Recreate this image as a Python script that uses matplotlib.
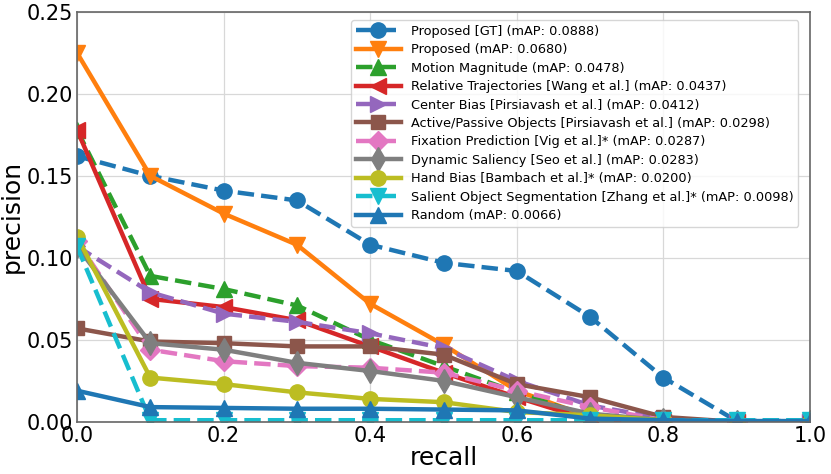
import numpy as np
import matplotlib
matplotlib.use('Agg')
import matplotlib.pyplot as plt

# recall-akse (fælles for alle kurver)
recall = [0.0, 0.1, 0.2, 0.3, 0.4, 0.5, 0.6, 0.7, 0.8, 0.9, 1.0]

# præcision pr. metode
prec_gt = [0.162, 0.150, 0.141, 0.135, 0.108, 0.097, 0.092, 0.064, 0.027, 0.0005, 0.0005]
prec_proposed = [0.225, 0.150, 0.127, 0.108, 0.072, 0.047, 0.019, 0.003, 0.001, 0.0, 0.0]
prec_motion = [0.178, 0.089, 0.081, 0.071, 0.050, 0.034, 0.018, 0.003, 0.001, 0.0, 0.0]
prec_traj = [0.178, 0.075, 0.070, 0.062, 0.046, 0.030, 0.015, 0.001, 0.0, 0.0, 0.0]
prec_center = [0.107, 0.079, 0.066, 0.061, 0.054, 0.045, 0.025, 0.010, 0.002, 0.0, 0.0]
prec_active = [0.057, 0.049, 0.048, 0.046, 0.046, 0.041, 0.023, 0.015, 0.003, 0.0, 0.0]
prec_fixation = [0.110, 0.044, 0.037, 0.034, 0.033, 0.030, 0.019, 0.009, 0.001, 0.0, 0.0]
prec_dynamic = [0.107, 0.048, 0.044, 0.036, 0.031, 0.025, 0.015, 0.005, 0.001, 0.0, 0.0]
prec_hand = [0.113, 0.027, 0.023, 0.018, 0.014, 0.012, 0.006, 0.004, 0.001, 0.0, 0.0]
prec_salient = [0.107, 0.001, 0.001, 0.001, 0.001, 0.001, 0.001, 0.001, 0.001, 0.001, 0.001]
prec_random = [0.019, 0.009, 0.0085, 0.008, 0.008, 0.0075, 0.007, 0.002, 0.001, 0.0005, 0.0005]

labels = [
    'Proposed [GT] (mAP: 0.0888)',
    'Proposed (mAP: 0.0680)',
    'Motion Magnitude (mAP: 0.0478)',
    'Relative Trajectories [Wang et al.] (mAP: 0.0437)',
    'Center Bias [Pirsiavash et al.] (mAP: 0.0412)',
    'Active/Passive Objects [Pirsiavash et al.] (mAP: 0.0298)',
    'Fixation Prediction [Vig et al.]* (mAP: 0.0287)',
    'Dynamic Saliency [Seo et al.] (mAP: 0.0283)',
    'Hand Bias [Bambach et al.]* (mAP: 0.0200)',
    'Salient Object Segmentation [Zhang et al.]* (mAP: 0.0098)',
    'Random (mAP: 0.0066)',
]

series = [prec_gt, prec_proposed, prec_motion, prec_traj, prec_center, prec_active,
          prec_fixation, prec_dynamic, prec_hand, prec_salient, prec_random]
markers = ['o', 'v', '^', '<', '>', 's', 'D', 'd', 'o', 'v', '^']
styles = ['--', '-', '--', '-', '--', '-', '--', '-', '-', '--', '-']
colors = ['#1f77b4', '#ff7f0e', '#2ca02c', '#d62728', '#9467bd', '#8c564b',
          '#e377c2', '#7f7f7f', '#bcbd22', '#17becf', '#1f77b4']
sizes = [11, 11, 11, 11, 11, 10, 10, 12, 11, 11, 11]

fig = plt.figure(figsize=(8.31, 4.74), dpi=100)
ax = fig.add_axes([0.0927, 0.11, 0.8820, 0.865])

for y, lab, m, ls, c, ms in zip(series, labels, markers, styles, colors, sizes):
    ax.plot(recall, y, linestyle=ls, marker=m, color=c, label=lab,
            linewidth=3.2, markersize=ms)

ax.set_xlim(0, 1)
ax.set_ylim(0, 0.25)
ax.set_xticks([0, 0.2, 0.4, 0.6, 0.8, 1.0])
ax.set_yticks([0, 0.05, 0.10, 0.15, 0.20, 0.25])
ax.set_xticklabels(['0.0', '0.2', '0.4', '0.6', '0.8', '1.0'])
ax.set_yticklabels(['0.00', '0.05', '0.10', '0.15', '0.20', '0.25'])
ax.tick_params(length=0, labelsize=15, pad=3)
ax.grid(True, color='#d8d8d8', linewidth=0.9)
ax.set_axisbelow(True)
for s in ax.spines.values():
    s.set_color('#666666')
    s.set_linewidth(1.2)

ax.set_xlabel('recall', fontsize=18, labelpad=0)
ax.set_ylabel('precision', fontsize=18, labelpad=2)

ax.legend(loc='upper right', fontsize=9.3, handlelength=3.5, labelspacing=0.42,
          borderpad=0.35, framealpha=0.8, bbox_to_anchor=(0.993, 0.995))

fig.savefig('out.png', dpi=100)
